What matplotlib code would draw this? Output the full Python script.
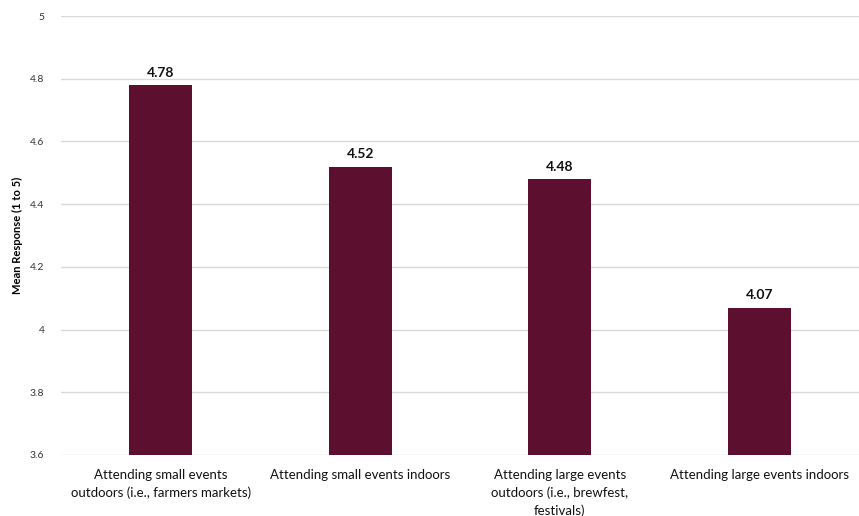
import matplotlib.pyplot as plt

categories = [
    "Attending small events\noutdoors (i.e., farmers markets)",
    "Attending small events indoors",
    "Attending large events\noutdoors (i.e., brewfest,\nfestivals)",
    "Attending large events indoors",
]
means = [4.78, 4.52, 4.48, 4.07]
yticks = [3.6, 3.8, 4.0, 4.2, 4.4, 4.6, 4.8, 5.0]
ytick_labels = ["3.6", "3.8", "4", "4.2", "4.4", "4.6", "4.8", "5"]

plt.rcParams['font.family'] = ['Lato', 'DejaVu Sans']

fig = plt.figure(figsize=(8.59, 5.16), dpi=100)
ax = fig.add_axes([61 / 859, 61 / 516, 798 / 859, 439 / 516])

x = range(len(categories))
ax.bar(x, means, width=0.315, color='#5c0f2f', zorder=3)
for xi, v in zip(x, means):
    ax.text(xi, v + 0.02, f"{v:.2f}", ha='center', va='bottom',
            fontsize=10, fontweight='bold', color='#111111')

ax.set_xlim(-0.5, 3.5)
ax.set_ylim(3.6, 5.0)
ax.set_yticks(yticks)
ax.set_yticklabels(ytick_labels, fontsize=7.5, color='#333333')
ax.set_xticks(list(x))
ax.set_xticklabels(categories, fontsize=9.5, color='#111111', linespacing=1.5)
ax.tick_params(axis='both', length=0)
ax.tick_params(axis='y', pad=12)
ax.tick_params(axis='x', pad=10)
ax.grid(axis='y', color='#d9d9d9', linewidth=1, zorder=0)
for side in ['top', 'right', 'left', 'bottom']:
    ax.spines[side].set_visible(False)

ax.set_ylabel("Mean Response (1 to 5)", fontsize=8, fontweight='bold', labelpad=5)

fig.savefig("out.png", dpi=100)
